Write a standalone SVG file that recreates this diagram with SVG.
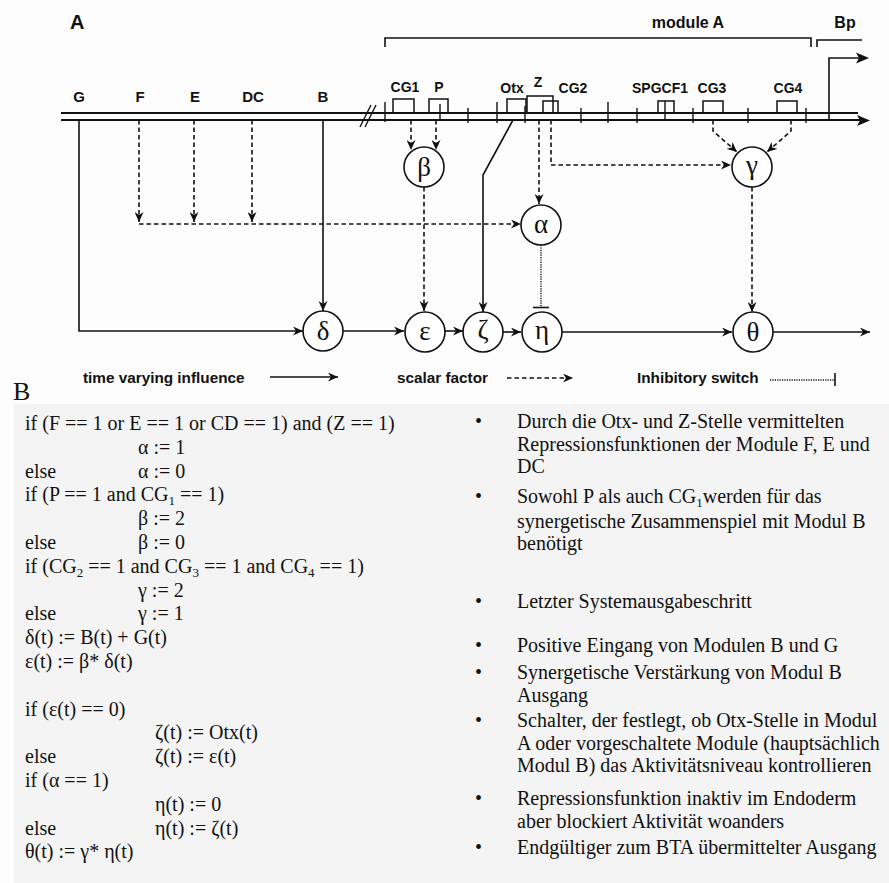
<svg xmlns="http://www.w3.org/2000/svg" width="889" height="883" viewBox="0 0 889 883">
<style>
.lab{font-family:"Liberation Sans",Arial,sans-serif;font-weight:bold;fill:#111}
.site{font-size:14px;text-anchor:middle}
.gr{font-family:"Liberation Serif","Times New Roman",serif;font-size:27px;text-anchor:middle;fill:#111}
.node{fill:#fff;stroke:#111;stroke-width:1.6}
.solid{fill:none;stroke:#111;stroke-width:1.6}
.dash{fill:none;stroke:#111;stroke-width:1.6;stroke-dasharray:4.5 3}
.dot{fill:none;stroke:#111;stroke-width:1.4;stroke-dasharray:1.2 1.2}
.dna{fill:none;stroke:#111;stroke-width:1.8}
.box{fill:none;stroke:#111;stroke-width:1.5}
.tick{stroke:#111;stroke-width:1.4}
.tx{font-family:"Liberation Serif","Times New Roman",serif;font-size:20px;fill:#111}
.sub{font-size:13px;baseline-shift:-4px}
</style>
<defs>
<marker id="ah" markerUnits="userSpaceOnUse" markerWidth="11" markerHeight="9" refX="10" refY="4.5" orient="auto">
<path d="M0,0 L10,4.5 L0,9 L3,4.5 z" fill="#111"/>
</marker>
</defs>
<rect x="0" y="0" width="889" height="883" fill="#fdfdfd"/>
<rect x="14" y="404" width="875" height="479" fill="#f4f4f4"/>

<text class="lab" x="70" y="29" font-size="20">A</text>

<g id="brackets">
<path class="solid" d="M385,47 V38 H811 V47"/>
<path class="solid" d="M817,47 V40 H862"/>
<text class="lab" x="688" y="28" font-size="16" text-anchor="middle">module A</text>
<text class="lab" x="845" y="28" font-size="16" text-anchor="middle">Bp</text>
</g>

<g id="dna">
<line class="dna" x1="61" y1="113" x2="858" y2="113"/>
<line class="dna" x1="61" y1="120" x2="860" y2="120"/>
<path d="M870,120.5 L857,115 L860,120.5 L857,126 z" fill="#111"/>
<line class="tick" x1="360" y1="127" x2="371" y2="105"/>
<line class="tick" x1="365" y1="127" x2="376" y2="105"/>
<g class="tick">
<line x1="385" y1="102" x2="385" y2="122"/>
<line x1="468" y1="108" x2="468" y2="123"/>
<line x1="497" y1="102" x2="497" y2="123"/>
<line x1="525" y1="106" x2="525" y2="123"/>
<line x1="581" y1="108" x2="581" y2="123"/>
<line x1="608" y1="102" x2="608" y2="123"/>
<line x1="637" y1="108" x2="637" y2="123"/>
<line x1="693" y1="108" x2="693" y2="123"/>
<line x1="748" y1="108" x2="748" y2="123"/>
<line x1="806" y1="108" x2="806" y2="123"/>
<line x1="440" y1="104" x2="440" y2="120"/>
<line x1="665" y1="101" x2="665" y2="120"/>
</g>
<rect class="box" x="393" y="99" width="21" height="14"/>
<rect class="box" x="429" y="99" width="19" height="14"/>
<rect class="box" x="507" y="99" width="19" height="14"/>
<rect class="box" x="527" y="96" width="26" height="17"/>
<rect class="box" x="543" y="101" width="15" height="12"/>
<rect class="box" x="658" y="101" width="16" height="12"/>
<rect class="box" x="703" y="101" width="20" height="12"/>
<rect class="box" x="777" y="101" width="20" height="12"/>
<path class="solid" d="M829,120 V58 H862" stroke-width="2"/>
<path d="M869,58 L856,52.5 L859,58 L856,63.5 z" fill="#111"/>
</g>

<g id="labels" class="lab" font-size="15">
<text x="79" y="102" text-anchor="middle">G</text>
<text x="140" y="102" text-anchor="middle">F</text>
<text x="195" y="102" text-anchor="middle">E</text>
<text x="253" y="102" text-anchor="middle">DC</text>
<text x="323" y="102" text-anchor="middle">B</text>
<text class="site" x="405" y="92">CG1</text>
<text class="site" x="439" y="92">P</text>
<text class="site" x="512" y="93">Otx</text>
<text class="site" x="538" y="87">Z</text>
<text class="site" x="573" y="93">CG2</text>
<text class="site" x="660" y="93" font-size="13.5">SPGCF1</text>
<text class="site" x="712" y="93">CG3</text>
<text class="site" x="788" y="93">CG4</text>
</g>

<g id="connectors">
<path class="solid" d="M79,120 V331 H303" marker-end="url(#ah)"/>
<path class="solid" d="M323,120 V311" marker-end="url(#ah)"/>
<path class="dash" d="M139,120 V222" marker-end="url(#ah)"/>
<path class="dash" d="M194,120 V222" marker-end="url(#ah)"/>
<path class="dash" d="M252,120 V222" marker-end="url(#ah)"/>
<path class="dash" d="M139,224 H521" marker-end="url(#ah)"/>
<path class="dash" d="M411,120 V150" marker-end="url(#ah)"/>
<path class="dash" d="M436,120 V150" marker-end="url(#ah)"/>
<path class="dash" d="M424,187 V311" marker-end="url(#ah)"/>
<path class="solid" d="M513,120 L483,175 V312" marker-end="url(#ah)"/>
<path class="dash" d="M539,120 V204" marker-end="url(#ah)"/>
<path class="dash" d="M551,120 V165 H731" marker-end="url(#ah)"/>
<path class="dash" d="M713,120 V131 L737,152" marker-end="url(#ah)"/>
<path class="dash" d="M791,120 V131 L767,152" marker-end="url(#ah)"/>
<path class="dash" d="M752,187 V312" marker-end="url(#ah)"/>
<path class="dot" d="M541,245 V307"/>
<line class="solid" x1="533" y1="307.5" x2="549" y2="307.5"/>
<path class="solid" d="M343,331 H404" marker-end="url(#ah)"/>
<path class="solid" d="M445,331 H463" marker-end="url(#ah)"/>
<path class="solid" d="M503,332 H521" marker-end="url(#ah)"/>
<path class="solid" d="M562,332 H732" marker-end="url(#ah)"/>
<path class="solid" d="M773,332 H870" marker-end="url(#ah)"/>
</g>

<g id="node-beta"><circle class="node" cx="424" cy="167" r="20"/><text class="gr" x="424" y="176">β</text></g>
<g id="node-gamma"><circle class="node" cx="752" cy="167" r="20"/><text class="gr" x="752" y="174">γ</text></g>
<g id="node-alpha"><circle class="node" cx="541" cy="225" r="20"/><text class="gr" x="541" y="233">α</text></g>
<g id="node-delta"><circle class="node" cx="323" cy="331" r="20"/><text class="gr" x="323" y="340">δ</text></g>
<g id="node-epsilon"><circle class="node" cx="425" cy="332" r="20"/><text class="gr" x="425" y="340">ε</text></g>
<g id="node-zeta"><circle class="node" cx="483" cy="332" r="20"/><text class="gr" x="483" y="339">ζ</text></g>
<g id="node-eta"><circle class="node" cx="542" cy="332" r="20"/><text class="gr" x="542" y="339">η</text></g>
<g id="node-theta"><circle class="node" cx="753" cy="332" r="20"/><text class="gr" x="753" y="341">θ</text></g>

<g id="legend">
<text class="lab" x="83" y="383" font-size="15.3">time varying influence</text>
<path class="solid" d="M270,377 H338" marker-end="url(#ah)"/>
<text class="lab" x="397" y="383" font-size="15.3">scalar factor</text>
<path class="dash" d="M507,378 H573" marker-end="url(#ah)"/>
<text class="lab" x="637" y="383" font-size="15.3">Inhibitory switch</text>
<path class="dot" d="M770,380 H834"/>
<line class="solid" x1="835" y1="373" x2="835" y2="386"/>
</g>

<text x="13" y="400" font-family="Liberation Serif, Times New Roman, serif" font-size="26" fill="#111">B</text>

<g id="code" class="tx">
<text x="25" y="430">if (F == 1 or E == 1 or CD == 1) and (Z == 1)</text>
<text x="138" y="453.8">α := 1</text>
<text x="25" y="477.6">else</text><text x="138" y="477.6">α := 0</text>
<text x="25" y="501.4">if (P == 1 and CG<tspan class="sub">1</tspan> == 1)</text>
<text x="138" y="525.2">β := 2</text>
<text x="25" y="549">else</text><text x="138" y="549">β := 0</text>
<text x="25" y="572.8">if (CG<tspan class="sub">2</tspan> == 1 and CG<tspan class="sub">3</tspan> == 1 and CG<tspan class="sub">4</tspan> == 1)</text>
<text x="138" y="596.6">γ := 2</text>
<text x="25" y="620.4">else</text><text x="138" y="620.4">γ := 1</text>
<text x="25" y="644.2">δ(t) := B(t) + G(t)</text>
<text x="25" y="668">ε(t) := β* δ(t)</text>
<text x="25" y="715.6">if (ε(t) == 0)</text>
<text x="155" y="739.4">ζ(t) := Otx(t)</text>
<text x="25" y="763.2">else</text><text x="155" y="763.2">ζ(t) := ε(t)</text>
<text x="25" y="787">if (α == 1)</text>
<text x="155" y="810.8">η(t) := 0</text>
<text x="25" y="834.6">else</text><text x="155" y="834.6">η(t) := ζ(t)</text>
<text x="25" y="858.4">θ(t) := γ* η(t)</text>
</g>

<g id="notes" class="tx">
<text x="475" y="428">•</text>
<text x="517" y="428">Durch die Otx- und Z-Stelle vermittelten</text>
<text x="517" y="450.5">Repressionsfunktionen der Module F, E und</text>
<text x="517" y="473">DC</text>
<text x="475" y="503">•</text>
<text x="517" y="503">Sowohl P als auch CG<tspan class="sub">1</tspan>werden für das</text>
<text x="517" y="527.5">synergetische Zusammenspiel mit Modul B</text>
<text x="517" y="550">benötigt</text>
<text x="475" y="608">•</text>
<text x="517" y="608">Letzter Systemausgabeschritt</text>
<text x="475" y="652">•</text>
<text x="517" y="652">Positive Eingang von Modulen B und G</text>
<text x="475" y="679">•</text>
<text x="517" y="679">Synergetische Verstärkung von Modul B</text>
<text x="517" y="701.5">Ausgang</text>
<text x="475" y="727">•</text>
<text x="517" y="727">Schalter, der festlegt, ob Otx-Stelle in Modul</text>
<text x="517" y="749.5">A oder vorgeschaltete Module (hauptsächlich</text>
<text x="517" y="772">Modul B) das Aktivitätsniveau kontrollieren</text>
<text x="475" y="805">•</text>
<text x="517" y="805">Repressionsfunktion inaktiv im Endoderm</text>
<text x="517" y="827.5">aber blockiert Aktivität woanders</text>
<text x="475" y="854">•</text>
<text x="517" y="854">Endgültiger zum BTA übermittelter Ausgang</text>
</g>
</svg>
